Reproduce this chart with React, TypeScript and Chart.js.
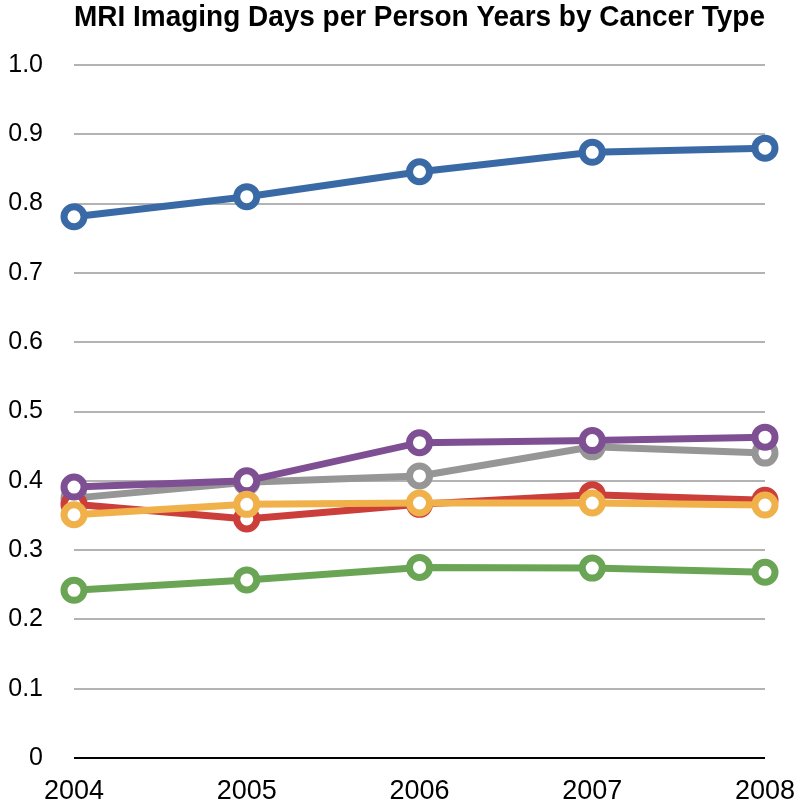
import React, { useEffect, useRef } from "react";
import { Chart, registerables } from "chart.js";

Chart.register(...registerables);

const years = ["2004", "2005", "2006", "2007", "2008"];
const blueSeries = [0.781, 0.81, 0.846, 0.874, 0.88];
const graySeries = [0.375, 0.398, 0.407, 0.449, 0.44];
const redSeries = [0.366, 0.345, 0.366, 0.38, 0.372];
const greenSeries = [0.242, 0.257, 0.275, 0.274, 0.268];
const purpleSeries = [0.391, 0.4, 0.455, 0.458, 0.463];
const orangeSeries = [0.351, 0.366, 0.368, 0.368, 0.365];
const titleText = "MRI Imaging Days per Person Years by Cancer Type";

const FONT = "'Liberation Sans', Arial, Helvetica, sans-serif";

function ds(label: string, data: number[], color: string, order: number) {
  return {
    label,
    data,
    borderColor: color,
    backgroundColor: color,
    borderWidth: 7,
    pointRadius: 10,
    pointHoverRadius: 10,
    pointBorderWidth: 7,
    pointBackgroundColor: "#ffffff",
    pointBorderColor: color,
    tension: 0,
    clip: false as any,
    order,
  };
}

export default function App() {
  const ref = useRef<HTMLCanvasElement | null>(null);
  useEffect(() => {
    if (!ref.current) return;
    const chart = new Chart(ref.current, {
      type: "line",
      data: {
        labels: years,
        datasets: [
          ds("Blue", blueSeries, "#3a6aa6", 5),
          ds("Gray", graySeries, "#969696", 3),
          ds("Red", redSeries, "#cc3e3a", 2),
          ds("Green", greenSeries, "#6aa555", 4),
          ds("Purple", purpleSeries, "#7e4f93", 1),
          ds("Orange", orangeSeries, "#f0b04a", 0),
        ],
      },
      options: {
        animation: false,
        responsive: false,
        maintainAspectRatio: false,
        layout: { padding: { top: 0, left: 0, right: 35, bottom: 0 } },
        plugins: {
          legend: { display: false },
          tooltip: { enabled: false },
          title: {
            display: true,
            text: titleText,
            fullSize: false,
            color: "#000",
            font: { family: FONT, size: 29, weight: "bold", lineHeight: 1.2 },
            padding: { top: 1, bottom: 29.2 },
          },
        },
        scales: {
          x: {
            type: "category",
            offset: false,
            grid: { display: false, drawTicks: false },
            border: { display: false },
            ticks: {
              color: "#000",
              font: { family: FONT, size: 27 },
              padding: 17,
              maxRotation: 0,
              autoSkip: false,
            },
            afterFit: (scale: any) => {
              scale.height = 48;
              scale.paddingLeft = 0;
              scale.paddingRight = 0;
            },
          },
          y: {
            min: 0,
            max: 1,
            grid: {
              drawTicks: false,
              lineWidth: 2,
              color: (ctx: any) => (ctx.tick && ctx.tick.value === 0 ? "#000" : "#b3b3b3"),
            },
            border: { display: false },
            ticks: {
              stepSize: 0.1,
              color: "#000",
              font: { family: FONT, size: 25 },
              padding: 31,
              callback: (v: any) => (Number(v) === 0 ? "0" : Number(v).toFixed(1)),
            },
            afterFit: (scale: any) => {
              scale.width = 74;
            },
          },
        },
      },
    });
    return () => chart.destroy();
  }, []);
  return (
    <div style={{ position: "absolute", left: 0, top: 0, width: 800, height: 806, background: "#fff" }}>
      <canvas ref={ref} width={800} height={806} style={{ display: "block" }} />
    </div>
  );
}
